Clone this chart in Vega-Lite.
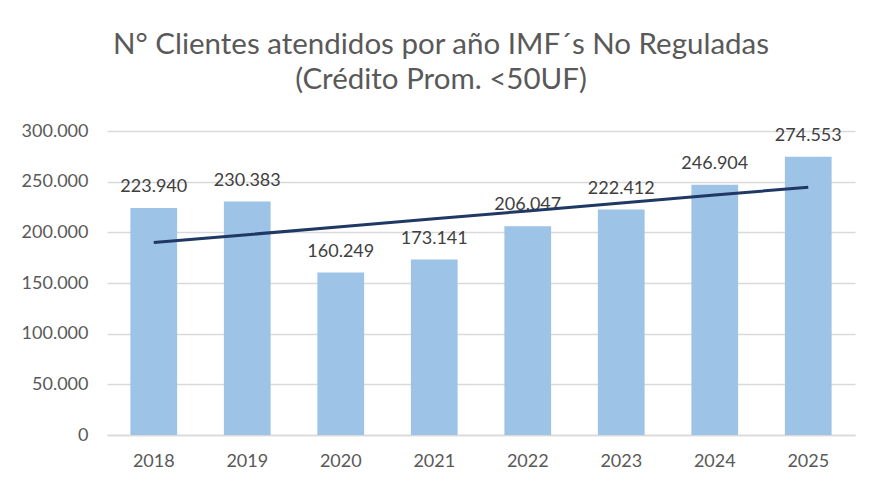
{
  "$schema": "https://vega.github.io/schema/vega-lite/v6.json",
  "width": 748,
  "height": 304,
  "autosize": "none",
  "padding": {"left": 107, "top": 131, "right": 17, "bottom": 54},
  "background": "white",
  "config": {
    "locale": {"number": {"decimal": ",", "thousands": ".", "grouping": [3], "currency": ["$", ""]}},
    "view": {"stroke": null},
    "font": "Lato",
    "axis": {"labelFont": "Lato", "labelFontSize": 18, "labelColor": "#595959", "ticks": false, "domain": false, "title": null}
  },
  "title": {
    "text": ["N° Clientes atendidos por año IMF´s No Reguladas", "(Crédito Prom. <50UF)"],
    "font": "Lato",
    "fontSize": 29.5,
    "fontWeight": "normal",
    "color": "#595959",
    "lineHeight": 35,
    "anchor": "middle",
    "dx": -40,
    "offset": 27
  },
  "data": {
    "values": [
      {"year": "2018", "clientes": 223940, "trend": 189858},
      {"year": "2019", "clientes": 230383, "trend": 197671},
      {"year": "2020", "clientes": 160249, "trend": 205484},
      {"year": "2021", "clientes": 173141, "trend": 213297},
      {"year": "2022", "clientes": 206047, "trend": 221110},
      {"year": "2023", "clientes": 222412, "trend": 228923},
      {"year": "2024", "clientes": 246904, "trend": 236736},
      {"year": "2025", "clientes": 274553, "trend": 244549}
    ]
  },
  "encoding": {
    "x": {"field": "year", "type": "ordinal", "scale": {"paddingInner": 0.5, "paddingOuter": 0.25},
          "axis": {"labelAngle": 0, "labelPadding": 17, "domain": true, "domainColor": "#D9D9D9", "domainWidth": 1.5}}
  },
  "layer": [
    {
      "mark": {"type": "bar", "color": "#9DC3E6"},
      "encoding": {
        "y": {"field": "clientes", "type": "quantitative",
              "scale": {"domain": [0, 300000]},
              "axis": {"values": [0, 50000, 100000, 150000, 200000, 250000, 300000], "format": ",d",
                       "grid": true, "gridColor": "#D9D9D9", "gridWidth": 1.5, "labelPadding": 19}}
      }
    },
    {
      "mark": {"type": "text", "baseline": "middle", "dy": -21, "fontSize": 18, "color": "#404040", "font": "Lato"},
      "encoding": {
        "y": {"field": "clientes", "type": "quantitative"},
        "text": {"field": "clientes", "type": "quantitative", "format": ",d"}
      }
    },
    {
      "mark": {"type": "line", "color": "#203864", "strokeWidth": 3},
      "encoding": {
        "y": {"field": "trend", "type": "quantitative"}
      }
    }
  ]
}
